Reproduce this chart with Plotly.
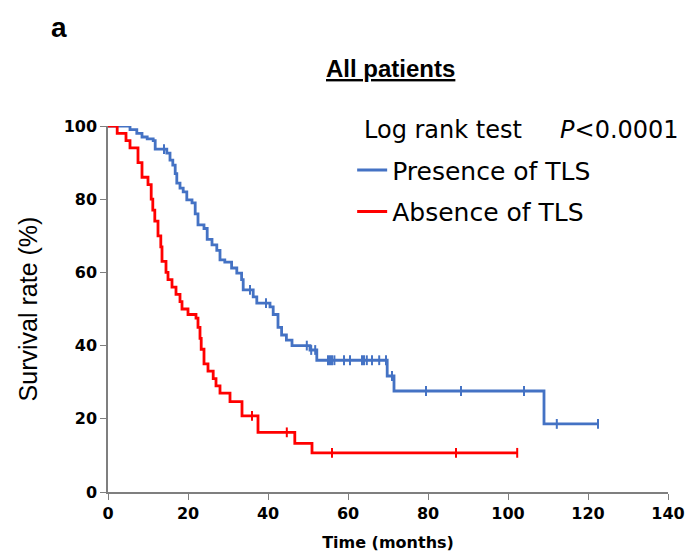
import numpy as np
import plotly.graph_objects as go

# ---- data ----
blue_times = [0, 5.5, 7.2, 8.5, 9.8, 11.3, 11.8, 14.7, 15.5, 16.2, 16.8, 17.2, 18, 18.8, 19.7, 21,
              21.8, 22.5, 24, 24.8, 26, 27.2, 28, 29.2, 30.9, 32.2, 33.4, 33.8, 36.3, 37.2, 40.5,
              41.3, 42.5, 43.4, 44.6, 46, 50.5, 52.2, 69.8, 71.5, 109]
blue_surv = [100, 99, 98, 97, 96.5, 96, 93.7, 92.6, 90.7, 89.3, 87, 84.4, 83, 82, 79.8, 79,
             76, 73, 72, 69, 67.5, 66, 63.4, 62.8, 61.2, 59.8, 58, 55.2, 53.3, 51.6, 50.6,
             48.5, 45, 42.9, 41.5, 40, 38.8, 36, 31.7, 27.6, 18.6]
blue_censor = [14, 35.5, 39.5, 49.7, 50.8, 51.8, 55, 55.5, 56, 56.6, 59, 60.5, 63.5, 64, 64.7,
               66, 67.8, 69.5, 71, 79.5, 88.25, 104, 112.2, 122.5]

red_times = [0, 2.3, 4.5, 5.5, 7.5, 8.5, 10, 10.8, 11.2, 11.7, 12.5, 13.2, 13.5, 14.5, 15, 16,
             17, 18, 18.5, 20, 22, 22.5, 23, 23.3, 24, 25, 26.3, 27, 28, 30.5, 33.5, 37.5, 46.7, 51]
red_surv = [100, 98, 96, 94, 90, 86, 84, 80, 77, 74, 70, 67, 63, 60, 58, 56,
            54, 52, 50, 48.5, 47.5, 45, 42, 39, 35, 33, 31, 29, 27, 24.7, 20.8, 16.3, 13.3, 10.7]
red_censor = [36, 44.7, 56, 87, 102.3]

x_ticks = [0, 20, 40, 60, 80, 100, 120, 140]
y_ticks = [0, 20, 40, 60, 80, 100]

BLUE = "#4472C4"
RED = "#FF0000"
AXIS = "#7F7F7F"


def surv_at(times, surv, t):
    idx = np.searchsorted(np.array(times), t, side="right") - 1
    return surv[idx]


fig = go.Figure()
for name, times, surv, cens, col in [
    ("Presence of TLS", blue_times, blue_surv, blue_censor, BLUE),
    ("Absence of TLS", red_times, red_surv, red_censor, RED),
]:
    end = max(cens)
    xs = list(times) + [end]
    ys = list(surv) + [surv[-1]]
    fig.add_trace(go.Scatter(x=xs, y=ys, mode="lines", line_shape="hv",
                             line=dict(color=col, width=2.8), name=name, legendgroup=name))
    fig.add_trace(go.Scatter(x=cens, y=[surv_at(times, surv, c) for c in cens],
                             mode="markers", showlegend=False, legendgroup=name,
                             marker=dict(symbol="line-ns", size=7,
                                         line=dict(color=col, width=2))))

tick_font = dict(family="DejaVu Sans", size=16, color="black", weight="bold")
# the page body adds an 8px offset, so the figure is 8px smaller than the window
fig.update_layout(
    width=685, height=547,
    paper_bgcolor="white", plot_bgcolor="white",
    margin=dict(l=100, r=25, t=118, b=63, autoexpand=False),
    font=dict(family="Liberation Sans", color="black"),
    xaxis=dict(range=[0, 140], tickvals=x_ticks, ticks="outside", ticklen=6,
               tickcolor=AXIS, tickwidth=1.3, showline=True, linecolor=AXIS,
               linewidth=1.5, showgrid=False, zeroline=False, automargin=False,
               tickfont=tick_font,
               title=dict(text="<b>Time (months)</b>",
                          font=dict(family="DejaVu Sans", size=16), standoff=15)),
    yaxis=dict(range=[0, 100], tickvals=y_ticks, ticks="outside", ticklen=6,
               tickcolor=AXIS, tickwidth=1.3, showline=True, linecolor=AXIS,
               linewidth=1.5, showgrid=False, zeroline=False, automargin=False,
               tickfont=tick_font,
               title=dict(text="Survival rate (%)",
                          font=dict(family="Liberation Sans", size=25), standoff=19)),
    legend=dict(x=0.436, y=0.942, xanchor="left", yanchor="top",
                font=dict(family="DejaVu Sans", size=25), itemwidth=30, tracegroupgap=6,
                bgcolor="rgba(0,0,0,0)"),
    showlegend=True,
)
fig.add_annotation(text="Log rank test     <i>P</i>&lt;0.0001", xref="paper", yref="paper",
                   x=(362 - 108) / 560, y=0.99, xanchor="left", yanchor="middle",
                   showarrow=False, font=dict(family="DejaVu Sans", size=24))
fig.add_annotation(text="<b><u>All patients</u></b>", xref="paper", yref="paper",
                   x=0.504, y=1.158, xanchor="center", yanchor="middle",
                   showarrow=False, font=dict(family="Liberation Sans", size=24))
fig.add_annotation(text="<b>a</b>", xref="paper", yref="paper",
                   x=-0.105, y=1.27, xanchor="left", yanchor="middle",
                   showarrow=False, font=dict(family="Liberation Sans", size=28))

fig.write_html("out.html")
